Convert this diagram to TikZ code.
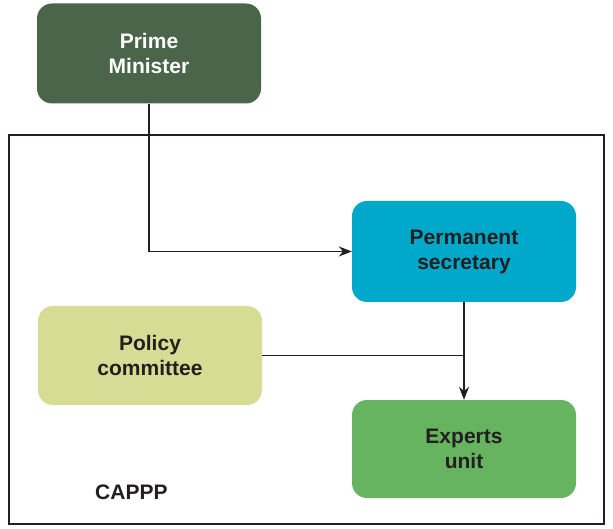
\documentclass[tikz,border=0pt]{standalone}
\usepackage{fontspec}
\setmainfont{Liberation Sans}
\usetikzlibrary{arrows.meta}
\definecolor{pmgreen}{HTML}{4A6549}
\definecolor{psblue}{HTML}{00A8CA}
\definecolor{pcyellow}{HTML}{D6DC93}
\definecolor{eugreen}{HTML}{66B460}
\definecolor{linegray}{HTML}{231F20}
\begin{document}
\begin{tikzpicture}[x=1pt,y=-1pt,
  orgbox/.style={rounded corners=15pt, minimum width=224pt, minimum height=100pt, inner sep=0pt, align=center, font=\fontsize{21}{25}\selectfont\bfseries, text=linegray},
  conn/.style={draw=linegray, line width=1.2pt},
  arr/.style={conn, -{Stealth[length=13pt,width=10pt]}}]
\useasboundingbox (0,0) rectangle (613,529);
\node[draw=linegray, line width=1.3pt, minimum width=595pt, minimum height=389pt, inner sep=0pt] (frame) at (306.5,329.5) {};
\node[orgbox, fill=pmgreen, text=white] (pm) at (149,53.5) {Prime\\Minister};
\node[orgbox, fill=psblue, minimum height=101pt] (ps) at (464,251.5) {Permanent\\secretary};
\node[orgbox, fill=pcyellow, minimum height=99pt] (pc) at (150,355.5) {Policy\\committee};
\node[orgbox, fill=eugreen, minimum height=98pt] (eu) at (464,449) {Experts\\unit};
\node[font=\fontsize{21}{25}\selectfont\bfseries, text=linegray, anchor=west, inner sep=0pt] (cappp) at (95,492) {CAPPP};
\coordinate (bend) at (pm.south |- ps.west);
\coordinate (join) at (ps.south |- pc.east);
\draw[arr] (pm.south) -- (bend) -- (ps.west);
\draw[arr] (ps.south) -- (eu.north);
\draw[conn] (pc.east) -- (join);
\end{tikzpicture}
\end{document}
